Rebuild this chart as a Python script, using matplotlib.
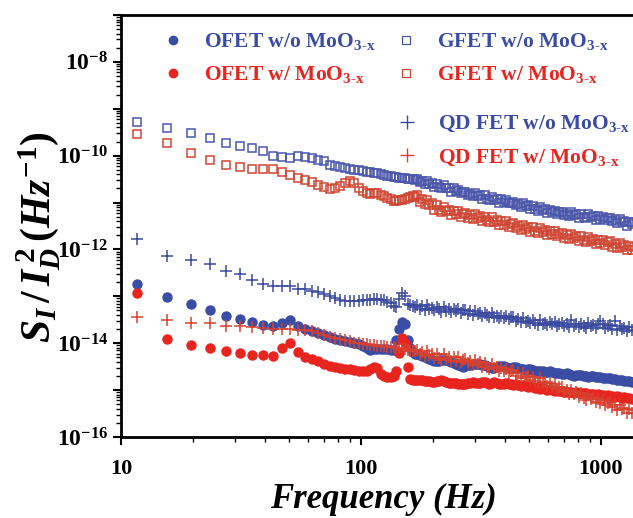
import numpy as np
import matplotlib
matplotlib.use("Agg")
import matplotlib.pyplot as plt
from matplotlib.ticker import LogLocator, FuncFormatter, NullFormatter
from matplotlib.lines import Line2D

plt.rcParams["font.family"] = "Liberation Serif"
plt.rcParams["font.weight"] = "bold"
plt.rcParams["mathtext.fontset"] = "custom"
plt.rcParams["mathtext.rm"] = "Liberation Serif:bold"
plt.rcParams["mathtext.bf"] = "Liberation Serif:bold"
plt.rcParams["mathtext.it"] = "Liberation Serif:italic:bold"

# frequency points (Hz)
freq = [11.7, 15.6, 19.5, 23.4, 27.3, 31.3, 35.2, 39.1, 43.0, 46.9,
        50.8, 54.7, 58.6, 62.5, 66.4, 70.3, 74.2, 78.1, 82.0, 85.9,
        89.8, 93.8, 97.7, 101.6, 105.5, 109.4, 113.3, 117.2, 121.1, 125.0,
        128.9, 132.8, 136.7, 140.6, 144.5, 148.4, 152.3, 156.3, 160.2, 164.1,
        168.0,
        172, 176, 180, 184, 188, 193, 197, 202, 207, 211,
        216, 221, 227, 232, 237, 243, 248, 254, 260, 266,
        272, 279, 285, 292, 299, 306, 313, 320, 328, 335,
        343, 351, 359, 368, 376, 385, 394, 403, 413, 422,
        432, 442, 453, 463, 474, 485, 497, 508, 520, 532,
        545, 558, 571, 584, 598, 612, 626, 641, 656, 671,
        687, 703, 719, 736, 753, 771, 789, 807, 826, 846,
        865, 886, 906, 927, 949, 971, 994, 1017, 1041, 1065,
        1090, 1116, 1142, 1168, 1196, 1224, 1252, 1281, 1311, 1342,
        1373]

# log10 of S_I / I_D^2
ofet_wo = [-12.73, -13.02, -13.16, -13.29, -13.41, -13.49, -13.54, -13.61, -13.63, -13.56,
           -13.50, -13.64, -13.70, -13.74, -13.79, -13.82, -13.87, -13.90, -13.93, -13.96,
           -13.98, -14.00, -14.02, -14.06, -14.10, -14.14, -14.12, -14.13, -14.13, -14.12,
           -14.13, -14.14, -14.14, -13.93, -13.70, -13.54, -13.60, -13.93, -14.10, -14.18,
           -14.22,
           -14.24, -14.26, -14.28, -14.30, -14.32, -14.34, -14.36, -14.38, -14.39, -14.38,
           -14.36, -14.35, -14.36, -14.38, -14.40, -14.42, -14.44, -14.46, -14.48, -14.50,
           -14.49, -14.47, -14.46, -14.45, -14.44, -14.44, -14.45, -14.46, -14.47, -14.49,
           -14.50, -14.52, -14.52, -14.50, -14.48, -14.48, -14.49, -14.50, -14.52, -14.52,
           -14.51, -14.50, -14.52, -14.54, -14.56, -14.57, -14.56, -14.55, -14.57, -14.59,
           -14.60, -14.59, -14.60, -14.62, -14.61, -14.60, -14.62, -14.63, -14.64, -14.63,
           -14.66, -14.65, -14.64, -14.66, -14.68, -14.69, -14.68, -14.67, -14.68, -14.70,
           -14.70, -14.72, -14.71, -14.70, -14.72, -14.73, -14.72, -14.74, -14.75, -14.74,
           -14.75, -14.77, -14.76, -14.78, -14.79, -14.78, -14.80, -14.81, -14.80, -14.82,
           -14.83]

ofet_w = [-12.92, -13.91, -14.03, -14.10, -14.16, -14.21, -14.25, -14.26, -14.28, -14.10,
          -14.00, -14.19, -14.29, -14.33, -14.38, -14.45, -14.48, -14.51, -14.52, -14.54,
          -14.55, -14.57, -14.59, -14.60, -14.60, -14.55, -14.51, -14.52, -14.66, -14.70,
          -14.72, -14.72, -14.70, -14.60, -14.20, -13.88, -14.00, -14.50, -14.76, -14.78,
          -14.78,
          -14.78, -14.78, -14.79, -14.80, -14.80, -14.81, -14.82, -14.82, -14.81, -14.80,
          -14.79, -14.81, -14.83, -14.84, -14.85, -14.84, -14.85, -14.86, -14.87, -14.88,
          -14.87, -14.85, -14.84, -14.83, -14.84, -14.85, -14.84, -14.82, -14.83, -14.85,
          -14.86, -14.85, -14.83, -14.84, -14.86, -14.87, -14.86, -14.85, -14.86, -14.88,
          -14.89, -14.88, -14.89, -14.91, -14.90, -14.92, -14.93, -14.92, -14.94, -14.95,
          -14.96, -14.97, -14.96, -14.98, -14.99, -14.98, -15.00, -15.01, -15.00, -15.02,
          -15.02, -15.03, -15.04, -15.03, -15.05, -15.06, -15.05, -15.06, -15.07, -15.06,
          -15.07, -15.08, -15.09, -15.08, -15.10, -15.09, -15.11, -15.10, -15.12, -15.11,
          -15.12, -15.13, -15.14, -15.13, -15.15, -15.16, -15.15, -15.17, -15.16, -15.18,
          -15.19]

gfet_wo = [-9.28, -9.40, -9.51, -9.63, -9.73, -9.80, -9.84, -9.91, -10.00, -10.02,
           -10.04, -10.00, -10.03, -10.06, -10.10, -10.12, -10.19, -10.22, -10.25, -10.27,
           -10.28, -10.30, -10.31, -10.32, -10.34, -10.35, -10.36, -10.37, -10.39, -10.41,
           -10.43, -10.44, -10.45, -10.46, -10.47, -10.47, -10.48, -10.49, -10.50, -10.50,
           -10.51,
           -10.49, -10.56, -10.54, -10.60, -10.54, -10.60, -10.58, -10.67, -10.60, -10.67,
           -10.70, -10.63, -10.70, -10.68, -10.77, -10.70, -10.76, -10.73, -10.80, -10.78,
           -10.77, -10.84, -10.81, -10.87, -10.80, -10.86, -10.84, -10.92, -10.85, -10.92,
           -10.95, -10.88, -10.94, -10.92, -11.00, -10.93, -10.99, -10.95, -11.02, -11.00,
           -10.99, -11.06, -11.03, -11.09, -11.02, -11.08, -11.06, -11.14, -11.07, -11.14,
           -11.17, -11.10, -11.16, -11.14, -11.22, -11.15, -11.21, -11.17, -11.24, -11.21,
           -11.20, -11.27, -11.24, -11.28, -11.21, -11.27, -11.24, -11.32, -11.25, -11.30,
           -11.33, -11.24, -11.31, -11.29, -11.37, -11.29, -11.35, -11.31, -11.38, -11.34,
           -11.33, -11.40, -11.38, -11.44, -11.36, -11.42, -11.40, -11.49, -11.41, -11.46,
           -11.42]

gfet_w = [-9.53, -9.72, -9.94, -10.10, -10.20, -10.25, -10.28, -10.28, -10.28, -10.35,
          -10.41, -10.47, -10.52, -10.57, -10.62, -10.66, -10.71, -10.70, -10.65, -10.58,
          -10.54, -10.58, -10.68, -10.76, -10.79, -10.81, -10.80, -10.79, -10.84, -10.87,
          -10.90, -10.93, -10.96, -10.97, -10.95, -10.94, -10.93, -10.90, -10.88, -10.87,
          -10.88,
          -10.85, -10.98, -10.93, -11.04, -10.94, -11.05, -11.02, -11.15, -11.06, -11.16,
          -11.21, -11.10, -11.19, -11.16, -11.27, -11.17, -11.25, -11.18, -11.30, -11.24,
          -11.22, -11.33, -11.27, -11.36, -11.25, -11.33, -11.29, -11.40, -11.30, -11.38,
          -11.42, -11.31, -11.41, -11.37, -11.48, -11.39, -11.47, -11.40, -11.52, -11.46,
          -11.44, -11.55, -11.49, -11.58, -11.47, -11.56, -11.52, -11.63, -11.53, -11.61,
          -11.65, -11.54, -11.63, -11.59, -11.70, -11.60, -11.68, -11.61, -11.72, -11.67,
          -11.65, -11.76, -11.70, -11.78, -11.67, -11.76, -11.72, -11.82, -11.72, -11.80,
          -11.84, -11.73, -11.82, -11.78, -11.89, -11.79, -11.87, -11.80, -11.91, -11.85,
          -11.83, -11.94, -11.88, -11.97, -11.86, -11.95, -11.91, -12.02, -11.92, -12.01,
          -11.94]

qd_wo = [-11.78, -12.15, -12.23, -12.32, -12.45, -12.52, -12.65, -12.73, -12.77, -12.77,
         -12.79, -12.84, -12.85, -12.88, -12.91, -12.96, -13.00, -13.04, -13.08, -13.11,
         -13.11, -13.10, -13.09, -13.08, -13.07, -13.07, -13.06, -13.06, -13.07, -13.08,
         -13.12, -13.15, -13.20, -13.22, -13.05, -12.92, -13.00, -13.16, -13.18, -13.20,
         -13.22,
         -13.18, -13.26, -13.21, -13.29, -13.19, -13.27, -13.24, -13.30, -13.23, -13.28,
         -13.33, -13.23, -13.31, -13.28, -13.34, -13.27, -13.32, -13.27, -13.35, -13.30,
         -13.29, -13.37, -13.32, -13.40, -13.31, -13.38, -13.36, -13.42, -13.35, -13.40,
         -13.45, -13.36, -13.44, -13.41, -13.47, -13.41, -13.46, -13.41, -13.49, -13.45,
         -13.44, -13.52, -13.48, -13.55, -13.46, -13.54, -13.52, -13.57, -13.51, -13.56,
         -13.61, -13.51, -13.59, -13.56, -13.62, -13.55, -13.60, -13.55, -13.63, -13.58,
         -13.57, -13.64, -13.59, -13.66, -13.50, -13.63, -13.60, -13.65, -13.58, -13.63,
         -13.67, -13.57, -13.64, -13.62, -13.67, -13.60, -13.52, -13.60, -13.67, -13.63,
         -13.62, -13.69, -13.53, -13.72, -13.63, -13.70, -13.67, -13.73, -13.66, -13.71,
         -13.66]

qd_w = [-13.44, -13.51, -13.56, -13.57, -13.63, -13.64, -13.66, -13.68, -13.69, -13.70,
        -13.70, -13.71, -13.72, -13.75, -13.79, -13.82, -13.86, -13.88, -13.91, -13.94,
        -13.96, -13.99, -14.00, -14.01, -14.02, -14.03, -14.04, -14.05, -14.06, -14.07,
        -14.08, -14.09, -14.09, -14.10, -14.11, -14.12, -14.13, -14.14, -14.16, -14.17,
        -14.16,
        -14.14, -14.24, -14.19, -14.28, -14.17, -14.26, -14.22, -14.31, -14.23, -14.31,
        -14.35, -14.24, -14.33, -14.29, -14.38, -14.29, -14.37, -14.30, -14.40, -14.35,
        -14.33, -14.43, -14.38, -14.47, -14.36, -14.45, -14.41, -14.50, -14.42, -14.50,
        -14.54, -14.44, -14.53, -14.50, -14.59, -14.52, -14.60, -14.54, -14.64, -14.60,
        -14.58, -14.69, -14.64, -14.74, -14.63, -14.73, -14.70, -14.79, -14.72, -14.80,
        -14.85, -14.75, -14.85, -14.82, -14.92, -14.85, -14.93, -14.87, -14.98, -14.94,
        -14.93, -15.04, -14.99, -15.09, -14.99, -15.08, -15.05, -15.15, -15.07, -15.16,
        -15.21, -15.11, -15.20, -15.17, -15.26, -15.19, -15.28, -15.21, -15.32, -15.27,
        -15.26, -15.37, -15.32, -15.42, -15.32, -15.41, -15.38, -15.48, -15.40, -15.49,
        -15.43]

blue = "#3a4da5"
red = "#e8241f"
blue_sq = "#4a56aa"
red_sq = "#cf4533"
blue_qd = "#3b4a9f"
red_qd = "#d8412f"

sub = r"MoO$_{\mathrm{3\text{-}x}}$"

fig = plt.figure(figsize=(6.33, 5.18), dpi=100)
ax = fig.add_axes([0.191, 0.1564, 0.829, 0.8147])

f = np.array(freq)
ax.plot(f, 10 ** np.array(gfet_wo), ls="none", marker="s", ms=6, mfc="none",
        mec=blue_sq, mew=1.1, zorder=2)
ax.plot(f, 10 ** np.array(gfet_w), ls="none", marker="s", ms=6, mfc="none",
        mec=red_sq, mew=1.1, zorder=2)
ax.plot(f, 10 ** np.array(qd_wo), ls="none", marker="+", ms=8, mew=1.1,
        color=blue_qd, zorder=3)
ax.plot(f, 10 ** np.array(ofet_wo), ls="none", marker="o", ms=6.5,
        color=blue, zorder=4)
ax.plot(f, 10 ** np.array(ofet_w), ls="none", marker="o", ms=6.5,
        color=red, zorder=4)
ax.plot(f, 10 ** np.array(qd_w), ls="none", marker="+", ms=8, mew=1.1,
        color=red_qd, zorder=5)

ax.set_xscale("log")
ax.set_yscale("log")
ax.set_xlim(10, 1535)
ax.set_ylim(1e-16, 1e-7)

ax.xaxis.set_major_locator(LogLocator(base=10, numticks=10))
ax.xaxis.set_minor_locator(LogLocator(base=10, subs=np.arange(2, 10), numticks=50))
ax.xaxis.set_major_formatter(FuncFormatter(lambda v, p: f"{int(round(v))}"))
ax.xaxis.set_minor_formatter(NullFormatter())

ax.yaxis.set_major_locator(LogLocator(base=10, numticks=20))
ax.yaxis.set_minor_locator(LogLocator(base=10, subs=np.arange(2, 10), numticks=200))


def ylab(v, p):
    e = int(round(np.log10(v)))
    if e % 2 == 0:
        return r"$10^{%d}$" % e
    return ""


ax.yaxis.set_major_formatter(FuncFormatter(ylab))
ax.yaxis.set_minor_formatter(NullFormatter())

ax.tick_params(which="major", direction="out", length=6, width=1.5)
ax.tick_params(which="minor", direction="out", length=3.5, width=1.0)
ax.tick_params(axis="x", which="major", labelsize=16, pad=10)
ax.tick_params(axis="y", which="major", labelsize=17, pad=3)
for s in ax.spines.values():
    s.set_linewidth(2)

ax.set_xlabel("Frequency (Hz)", fontsize=25, fontstyle="italic",
              fontweight="bold", labelpad=3)
ax.set_ylabel(r"$S_I\,/\,I_D^{\,2}\,(Hz^{-1})$", fontsize=30)
ax.yaxis.set_label_coords(-0.112, 0.474)

lp = {"family": "Liberation Serif", "weight": "bold", "size": 15.5}
h1 = [Line2D([], [], ls="none", marker="o", ms=6, color=blue),
      Line2D([], [], ls="none", marker="o", ms=6, color=red),
      Line2D([], [], ls="none", marker="s", ms=6, mfc="none", mec=blue_sq, mew=0.9),
      Line2D([], [], ls="none", marker="s", ms=6, mfc="none", mec=red_sq, mew=0.9)]
l1 = ["OFET w/o " + sub, "OFET w/ " + sub, "GFET w/o " + sub, "GFET w/ " + sub]
leg1 = ax.legend(h1, l1, ncol=2, loc="upper left", bbox_to_anchor=(0.0786, 0.961),
                 frameon=False, borderpad=0, borderaxespad=0, handlelength=1.0,
                 handletextpad=0.94, columnspacing=0.94, labelspacing=0.54,
                 labelcolor=[blue, red, blue, red], prop=lp)
ax.add_artist(leg1)

h2 = [Line2D([], [], ls="none", marker="+", ms=9.5, mew=1.0, color=blue_qd),
      Line2D([], [], ls="none", marker="+", ms=9.5, mew=1.0, color=red_qd)]
l2 = ["QD FET w/o " + sub, "QD FET w/ " + sub]
ax.legend(h2, l2, loc="upper left", bbox_to_anchor=(0.5246, 0.765),
          frameon=False, borderpad=0, borderaxespad=0, handlelength=1.0,
          handletextpad=0.94, labelspacing=0.62, labelcolor=[blue, red], prop=lp)

fig.savefig("out.png", dpi=100)
